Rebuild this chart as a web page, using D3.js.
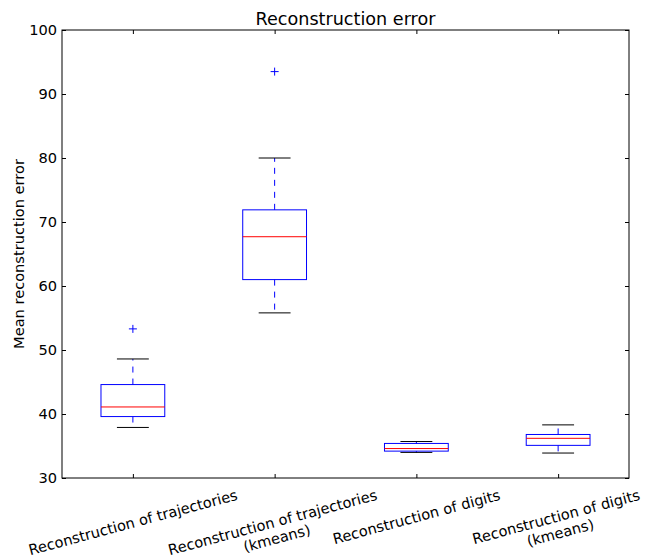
<!DOCTYPE html>
<html>
<head>
<meta charset="utf-8">
<script src="https://cdn.jsdelivr.net/npm/d3@7"></script>
<style>
  body { margin: 0; background: #fff; }
  text { font-family: "DejaVu Sans", sans-serif; fill: #000; }
</style>
</head>
<body>
<svg id="chart" width="647" height="559"></svg>
<script>
// box stats
const categories = ["Reconstruction of trajectories", "Reconstruction of trajectories\n(kmeans)",
                    "Reconstruction of digits", "Reconstruction of digits\n(kmeans)"];
const whiskerLow  = [37.9, 55.8, 34.0, 33.9];
const q1          = [39.6, 61.0, 34.2, 35.1];
const medians     = [41.1, 67.7, 34.6, 36.2];
const q3          = [44.6, 71.9, 35.4, 36.8];
const whiskerHigh = [48.6, 80.0, 35.7, 38.3];
const fliers      = [[53.3], [93.5], [], []];
const yTicks      = [30, 40, 50, 60, 70, 80, 90, 100];

const margin = {left: 62, right: 18, top: 30, bottom: 81};
const width = 647, height = 559;
const fontSize = 14.6;
const svg = d3.select("#chart");

const x = d3.scaleLinear().domain([0.5, 4.5]).range([margin.left, width - margin.right]);
const y = d3.scaleLinear().domain([30, 100]).range([height - margin.bottom, margin.top]);
const boxW = x(0.45) - x(0);

// frame
svg.append("rect")
    .attr("x", x(0.5)).attr("y", y(100))
    .attr("width", x(4.5) - x(0.5)).attr("height", y(30) - y(100))
    .attr("fill", "none").attr("stroke", "#000").attr("stroke-width", 1);

// ticks inside on all four sides
const tickLen = 4;
const yLeft = svg.append("g").attr("transform", `translate(${x(0.5)},0)`)
    .call(d3.axisLeft(y).tickValues(yTicks).tickSize(-tickLen).tickPadding(5));
const yRight = svg.append("g").attr("transform", `translate(${x(4.5)},0)`)
    .call(d3.axisRight(y).tickValues(yTicks).tickSize(-tickLen).tickFormat(""));
const xBottom = svg.append("g").attr("transform", `translate(0,${y(30)})`)
    .call(d3.axisBottom(x).tickValues([1, 2, 3, 4]).tickSize(-tickLen).tickFormat(""));
const xTop = svg.append("g").attr("transform", `translate(0,${y(100)})`)
    .call(d3.axisTop(x).tickValues([1, 2, 3, 4]).tickSize(-tickLen).tickFormat(""));
[yLeft, yRight, xBottom, xTop].forEach(g => {
  g.select(".domain").remove();
  g.selectAll(".tick line").attr("stroke", "#000");
});
yLeft.selectAll(".tick text").attr("font-size", fontSize).attr("font-family", "DejaVu Sans");

// rotated category labels
categories.forEach((label, i) => {
  const g = svg.append("g");
  const t = g.append("text").attr("text-anchor", "middle").attr("font-size", fontSize);
  label.split("\n").forEach((line, j) => {
    t.append("tspan").attr("x", 0).attr("dy", j === 0 ? 0 : "1.12em").text(line);
  });
  const bb = t.node().getBBox();
  t.attr("transform", `translate(0,${-(bb.y + bb.height / 2)})`);
  const a = 15 * Math.PI / 180;
  const H = bb.width * Math.sin(a) + bb.height * Math.cos(a);
  g.attr("transform", `translate(${x(i + 1)},${y(30) + 8 + H / 2}) rotate(-15)`);
});

// boxes
categories.forEach((c, i) => {
  const cx = x(i + 1);
  const g = svg.append("g");
  // whiskers
  g.append("line").attr("x1", cx).attr("x2", cx).attr("y1", y(q3[i])).attr("y2", y(whiskerHigh[i]))
      .attr("stroke", "#0000ff").attr("stroke-dasharray", "6,6");
  g.append("line").attr("x1", cx).attr("x2", cx).attr("y1", y(q1[i])).attr("y2", y(whiskerLow[i]))
      .attr("stroke", "#0000ff").attr("stroke-dasharray", "6,6");
  // caps
  [whiskerLow[i], whiskerHigh[i]].forEach(v => {
    g.append("line").attr("x1", cx - boxW / 4).attr("x2", cx + boxW / 4)
        .attr("y1", y(v)).attr("y2", y(v)).attr("stroke", "#000");
  });
  // box
  g.append("rect").attr("x", cx - boxW / 2).attr("y", y(q3[i]))
      .attr("width", boxW).attr("height", y(q1[i]) - y(q3[i]))
      .attr("fill", "none").attr("stroke", "#0000ff");
  // median
  g.append("line").attr("x1", cx - boxW / 2).attr("x2", cx + boxW / 2)
      .attr("y1", y(medians[i])).attr("y2", y(medians[i])).attr("stroke", "#ff0000");
  // fliers
  fliers[i].forEach(v => {
    g.append("path").attr("d", `M${cx - 4},${y(v)}H${cx + 4}M${cx},${y(v) - 4}V${y(v) + 4}`)
        .attr("stroke", "#0000ff");
  });
});

// title and y label
svg.append("text").attr("x", (x(0.5) + x(4.5)) / 2).attr("y", 25)
    .attr("text-anchor", "middle").attr("font-size", 17.6).text("Reconstruction error");
svg.append("text").attr("transform", `translate(24,${(y(30) + y(100)) / 2}) rotate(-90)`)
    .attr("text-anchor", "middle").attr("font-size", fontSize).text("Mean reconstruction error");
</script>
</body>
</html>
